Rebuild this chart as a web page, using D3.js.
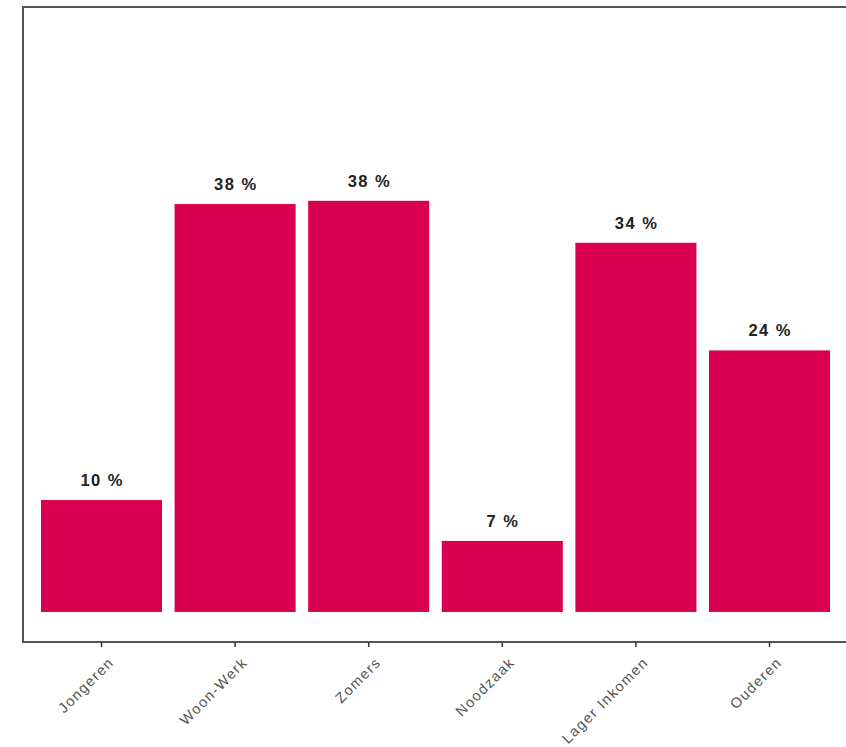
<!DOCTYPE html>
<html>
<head>
<meta charset="utf-8">
<script src="https://cdn.jsdelivr.net/npm/d3@7"></script>
<style>
  html, body { margin: 0; padding: 0; background: #fff; }
  svg { display: block; }
</style>
</head>
<body>
<svg id="chart" width="846" height="747"></svg>
<script>
const categories = ["Jongeren", "Woon-Werk", "Zomers", "Noodzaak", "Lager Inkomen", "Ouderen"];
const values = [10.4, 37.9, 38.2, 6.6, 34.3, 24.3];
const valueLabels = ["10 %", "38 %", "38 %", "7 %", "34 %", "24 %"];

const svg = d3.select("#chart");
const W = 846, H = 747;
const panel = { left: 22, top: 6, right: 849, bottom: 642 };

const x = d3.scaleBand()
  .domain(categories)
  .range([panel.left, panel.right])
  .paddingInner(0.094)
  .paddingOuter(0.142);

const y = d3.scaleLinear()
  .domain([-2.79, 56.3])
  .range([panel.bottom, panel.top]);

// bars
svg.append("g").selectAll("rect")
  .data(categories)
  .join("rect")
  .attr("x", d => x(d))
  .attr("width", x.bandwidth())
  .attr("y", (d, i) => y(values[i]))
  .attr("height", (d, i) => y(0) - y(values[i]))
  .attr("fill", "#d9004f");

// value labels
svg.append("g").selectAll("text")
  .data(categories)
  .join("text")
  .attr("x", d => x(d) + x.bandwidth() / 2 + 0.75)
  .attr("y", (d, i) => y(values[i]) - 14)
  .attr("text-anchor", "middle")
  .attr("font-family", "Liberation Sans, Arial, sans-serif")
  .attr("font-weight", "bold")
  .attr("font-size", 16.5)
  .attr("letter-spacing", "1.5px")
  .attr("fill", "#222")
  .text((d, i) => valueLabels[i]);

// panel frame (left, top, bottom)
const frame = svg.append("g").attr("stroke", "#555").attr("stroke-width", 2).attr("fill", "none");
frame.append("path")
  .attr("d", `M${W + 5},${panel.top + 1}H${panel.left + 1}V${panel.bottom}H${W + 5}`);

// x axis
const xAxis = d3.axisBottom(x).tickSize(5).tickSizeOuter(0);
const gx = svg.append("g")
  .attr("transform", `translate(0,${panel.bottom})`)
  .call(xAxis);
gx.select(".domain").remove();
gx.selectAll(".tick line").attr("stroke", "#333").attr("stroke-width", 1.5);
gx.selectAll(".tick text")
  .attr("font-family", "Liberation Sans, Arial, sans-serif")
  .attr("font-size", 14.5)
  .attr("letter-spacing", "1.4px")
  .attr("fill", "#555")
  .attr("text-anchor", "end")
  .attr("x", 0)
  .attr("y", 0)
  .attr("dy", "0.71em")
  .attr("transform", "translate(6,14) rotate(-45)");
</script>
</body>
</html>
